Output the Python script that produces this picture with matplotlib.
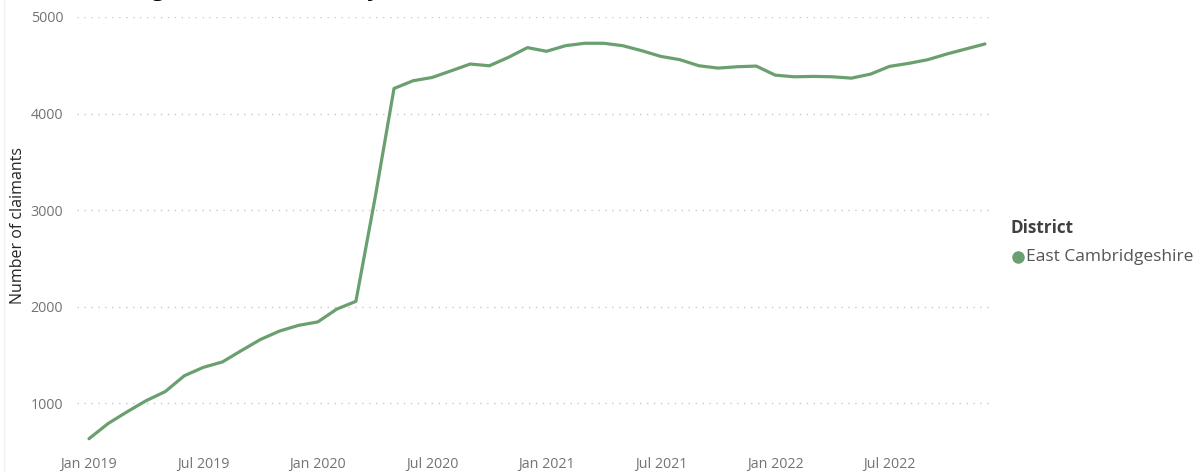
import matplotlib
matplotlib.use("Agg")
import matplotlib.pyplot as plt
from matplotlib.lines import Line2D

# ---- data ----
months = [f"{m} {y}" for y in range(2019, 2023)
          for m in ["Jan", "Feb", "Mar", "Apr", "May", "Jun",
                    "Jul", "Aug", "Sep", "Oct", "Nov", "Dec"]]
claimants = [634, 791, 913, 1028, 1122, 1286, 1373, 1429, 1547, 1662, 1749, 1808,
             1843, 1976, 2056, 3120, 4260, 4340, 4374, 4443, 4513, 4495, 4582, 4683,
             4645, 4703, 4728, 4728, 4703, 4651, 4592, 4558, 4495, 4471, 4485, 4492,
             4398, 4381, 4385, 4381, 4367, 4409, 4489, 4520, 4558, 4617, 4669, 4721]
tick_labels = ["Jan 2019", "Jul 2019", "Jan 2020", "Jul 2020",
               "Jan 2021", "Jul 2021", "Jan 2022", "Jul 2022"]
y_ticks = [1000, 2000, 3000, 4000, 5000]
series_name = "East Cambridgeshire"
legend_title = "District"
y_label = "Number of claimants"
title = "Total claiming benefits, monthly"

LINE = "#6A9F6F"
FONT = ["Open Sans", "DejaVu Sans"]
plt.rcParams["font.family"] = FONT

W, H = 1203, 472
fig = plt.figure(figsize=(W / 100, H / 100), dpi=100)
ax = fig.add_axes([77 / W, 1 - 442 / H, (992 - 77) / W, (442 - 17) / H])

x = list(range(len(claimants)))
ax.plot(x, claimants, color=LINE, lw=2.3, solid_joinstyle="round",
        solid_capstyle="round", zorder=3)

ax.set_xlim(-0.63, len(claimants) - 1 + 0.37)
ax.set_ylim(600, 5000)

tick_pos = [months.index(t) for t in tick_labels]
ax.set_xticks(tick_pos)
ax.set_xticklabels(tick_labels, color="#737373", fontsize=10.3)
ax.set_yticks(y_ticks)
ax.set_yticklabels([str(v) for v in y_ticks], color="#737373", fontsize=10.3)
ax.tick_params(axis="both", length=0)
ax.tick_params(axis="x", pad=11)
ax.tick_params(axis="y", pad=10)

ax.grid(axis="y", color="#C8C8C8", linestyle=(0, (1, 4)), linewidth=1)
ax.set_axisbelow(True)
for s in ax.spines.values():
    s.set_visible(False)

ax.set_ylabel(y_label, color="#252423", fontsize=11.5)
ax.yaxis.set_label_coords(-0.0555, 0.51)

# faint visual border at left
fig.add_artist(Line2D([4 / W, 4 / W], [0, 1], color="#F2F2F2", lw=1))

# legend (Power BI style)
fig.text(1010 / W, 1 - 228 / H, legend_title, fontsize=12.3, fontweight="bold",
         color="#404040", va="center", ha="left")
fig.add_artist(Line2D([1018 / W], [1 - 257 / H], marker="o", markersize=8,
                      color=LINE, linestyle="none"))
fig.text(1026 / W, 1 - 257 / H, series_name, fontsize=12.5, color="#555555",
         va="center", ha="left")

# title, mostly cut off by the top edge (as in the reference)
fig.text(0 / W, 1 + 5 / H, title, fontsize=17, fontweight="bold",
         color="#000000", va="baseline", ha="left")

fig.savefig("out.png", dpi=100, facecolor="white")
